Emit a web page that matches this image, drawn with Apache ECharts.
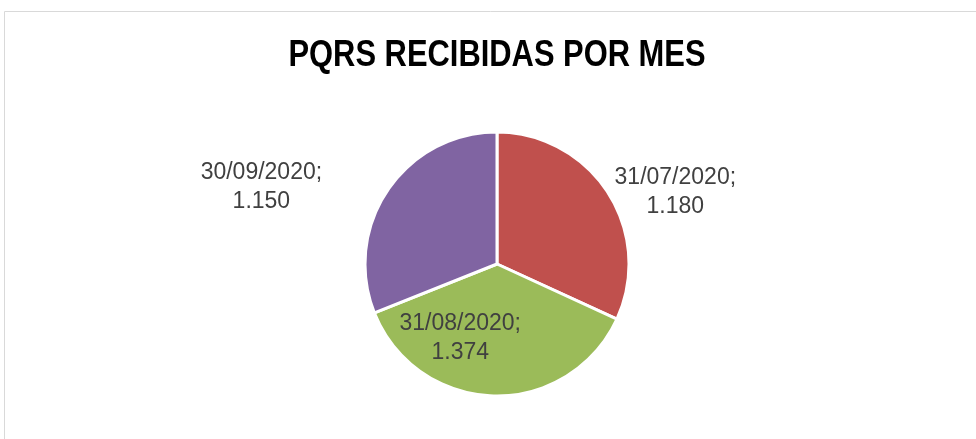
<!DOCTYPE html>
<html>
<head>
<meta charset="utf-8">
<script src="https://cdn.jsdelivr.net/npm/echarts@6/dist/echarts.min.js"></script>
<style>
  html, body { margin: 0; padding: 0; background: #fff; }
  #chart { width: 976px; height: 439px; }
</style>
</head>
<body>
<div id="chart"></div>
<script>
// datos
const fechas = ['31/07/2020', '31/08/2020', '30/09/2020']
const pqrs = [1180, 1374, 1150]
const colores = ['#c0504d', '#9bbb59', '#8064a2']

// 1180 -> "1.180"
const fmt = (v) => String(v).replace(/\B(?=(\d{3})+(?!\d))/g, '.')

const chart = echarts.init(document.getElementById('chart'))

const textoBase = {
  fontFamily: "'Liberation Sans', Arial, sans-serif",
  fontSize: 23,
  lineHeight: 29,
  color: '#404040'
}

const datos = fechas.map((f, i) => {
  const item = { name: f, value: pqrs[i], itemStyle: { color: colores[i] } }
  if (i === 1) {
    item.label = { position: 'inside', offset: [-35, 5] }
  } else if (i === 0) {
    item.labelLine = { length: 2, length2: 0 }
    item.label = { offset: [-2, 0] }
  } else {
    item.labelLine = { length: 30, length2: 0 }
    item.label = { offset: [-34, 14] }
  }
  return item
})

chart.setOption({
  animation: false,
  graphic: [
    {
      type: 'rect',
      shape: { x: 4.5, y: 11.5, width: 980, height: 440 },
      style: { fill: 'none', stroke: '#d9d9d9', lineWidth: 1 },
      silent: true
    },
    {
      // titulo comprimido (la fuente original es estrecha)
      type: 'text',
      x: 497,
      y: 56,
      scaleX: 0.835,
      style: {
        text: 'PQRS RECIBIDAS POR MES',
        fontFamily: "'Liberation Sans', Arial, sans-serif",
        fontWeight: 'bold',
        fontSize: 37,
        fill: '#000',
        align: 'center',
        verticalAlign: 'middle'
      },
      silent: true
    }
  ],
  series: [
    {
      type: 'pie',
      center: [497, 264],
      radius: [0, 132],
      startAngle: 90,
      clockwise: true,
      avoidLabelOverlap: false,
      itemStyle: { borderColor: '#fff', borderWidth: 3 },
      label: Object.assign({
        show: true,
        position: 'outside',
        formatter: (p) => '{t|' + p.name + ';}\n{t|' + fmt(p.value) + '}',
        rich: {
          t: Object.assign({ width: 125, align: 'center' }, textoBase)
        }
      }, textoBase),
      labelLine: { show: false },
      emphasis: { disabled: true },
      data: datos
    }
  ]
})
</script>
</body>
</html>
